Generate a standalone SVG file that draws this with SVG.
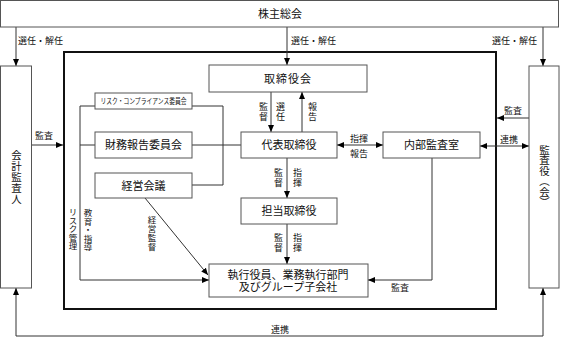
<svg xmlns="http://www.w3.org/2000/svg" width="561" height="338" viewBox="0 0 561 338">
<defs>
<marker id="ah" markerUnits="userSpaceOnUse" markerWidth="7" markerHeight="6" refX="7" refY="3" orient="auto-start-reverse">
<path d="M0,0 L7,3 L0,6 z" fill="#000"/>
</marker>
<style>
text{font-family:"Liberation Sans","Noto Sans CJK JP",sans-serif;fill:#111}
.box{fill:#fff;stroke:#555;stroke-width:1}
.bt{font-size:11px;text-anchor:middle}
.lb{font-size:9px}
.lm{font-size:9px;text-anchor:middle}
.vt{writing-mode:vertical-rl;text-anchor:middle;font-size:9px;letter-spacing:1px}
.vs{writing-mode:vertical-rl;text-anchor:middle;font-size:8.5px}
.vb{writing-mode:vertical-rl;text-anchor:middle;font-size:10.5px}
.c{fill:none;stroke:#333;stroke-width:1}
.a{marker-end:url(#ah)}
.d{marker-start:url(#ah);marker-end:url(#ah)}
</style>
</defs>

<g id="frame">
<rect x="64" y="52" width="432" height="257" fill="none" stroke="#111" stroke-width="2"/>
</g>

<g id="connectors">
<path class="c a" d="M16,27 V66"/>
<path class="c a" d="M287,27 V65"/>
<path class="c a" d="M543,27 V66"/>
<path class="c a" d="M271,92 V132"/>
<path class="c a" d="M302,132 V92"/>
<path class="c d" d="M337,145 H383"/>
<path class="c d" d="M480,146 H529"/>
<path class="c a" d="M529,118 H497"/>
<path class="c a" d="M31,145 H63"/>
<path class="c a" d="M287,158 V198"/>
<path class="c a" d="M287,224 V264"/>
<path class="c a" d="M432,158 V280 H368"/>
<path class="c a" d="M145,198 L208,275"/>
<path class="c a" d="M95,106 H80 V280 H209"/>
<path class="c" d="M80,145 H95"/>
<path class="c" d="M192,106 H223 V185 H192"/>
<path class="c" d="M192,145 H241"/>
<path class="c a" d="M543,336 V288"/>
<path class="c a" d="M16,336 V288"/>
<path class="c" d="M16,336 H543"/>
</g>

<g id="n-shareholders">
<rect class="box" x="0.5" y="0.5" width="558" height="26.5"/>
<text class="bt" x="280" y="18">株主総会</text>
</g>
<g id="n-accounting-auditor">
<rect class="box" x="0.5" y="66" width="31" height="222"/>
<text class="vb" x="16" y="177" letter-spacing="0.5">会計監査人</text>
</g>
<g id="n-auditors">
<rect class="box" x="529" y="66" width="30" height="222"/>
<text class="vb" x="544" y="176">監査役（会）</text>
</g>
<g id="n-board">
<rect class="box" x="209" y="65" width="158" height="27"/>
<text class="bt" x="288" y="82.5" letter-spacing="1">取締役会</text>
</g>
<g id="n-risk">
<rect class="box" x="95" y="93" width="97" height="16"/>
<text x="143.5" y="104" font-size="7.5" text-anchor="middle" textLength="86" lengthAdjust="spacingAndGlyphs">リスク・コンプライアンス委員会</text>
</g>
<g id="n-financial">
<rect class="box" x="95" y="132" width="97" height="26"/>
<text class="bt" x="143.5" y="149">財務報告委員会</text>
</g>
<g id="n-mgmt">
<rect class="box" x="95" y="173" width="97" height="25"/>
<text class="bt" x="143.5" y="189.5">経営会議</text>
</g>
<g id="n-ceo">
<rect class="box" x="241" y="132" width="96" height="26"/>
<text class="bt" x="289" y="149">代表取締役</text>
</g>
<g id="n-internal-audit">
<rect class="box" x="383" y="132" width="97" height="26"/>
<text class="bt" x="431.5" y="149">内部監査室</text>
</g>
<g id="n-director">
<rect class="box" x="241" y="198" width="96" height="26"/>
<text class="bt" x="289" y="215">担当取締役</text>
</g>
<g id="n-exec">
<rect class="box" x="209" y="264" width="159" height="33"/>
<text class="bt" x="288" y="279">執行役員、業務執行部門</text>
<text class="bt" x="288" y="291">及びグループ子会社</text>
</g>

<g id="labels">
<text class="lb" x="18" y="44">選任・解任</text>
<text class="lb" x="291" y="44">選任・解任</text>
<text class="lb" x="492" y="44">選任・解任</text>
<text class="vt" x="263" y="112.5">監督</text>
<text class="vt" x="280" y="112.5">選任</text>
<text class="vt" x="312" y="112.5">報告</text>
<text class="lm" x="359" y="142">指揮</text>
<text class="lm" x="359" y="157">報告</text>
<text class="lm" x="513" y="114">監査</text>
<text class="lm" x="509" y="143">連携</text>
<text class="lm" x="44" y="139">監査</text>
<text class="vt" x="278" y="178.5">監督</text>
<text class="vt" x="297" y="178.5">指揮</text>
<text class="vt" x="278" y="243.5">監督</text>
<text class="vt" x="297" y="243.5">指揮</text>
<text class="lm" x="400" y="291">監査</text>
<text class="lm" x="280" y="333">連携</text>
<text class="vs" x="72" y="229">リスク管理</text>
<text class="vs" x="87" y="230">教育・指導</text>
<text class="vs" x="151" y="234" letter-spacing="0.5">経営監督</text>
</g>
</svg>
